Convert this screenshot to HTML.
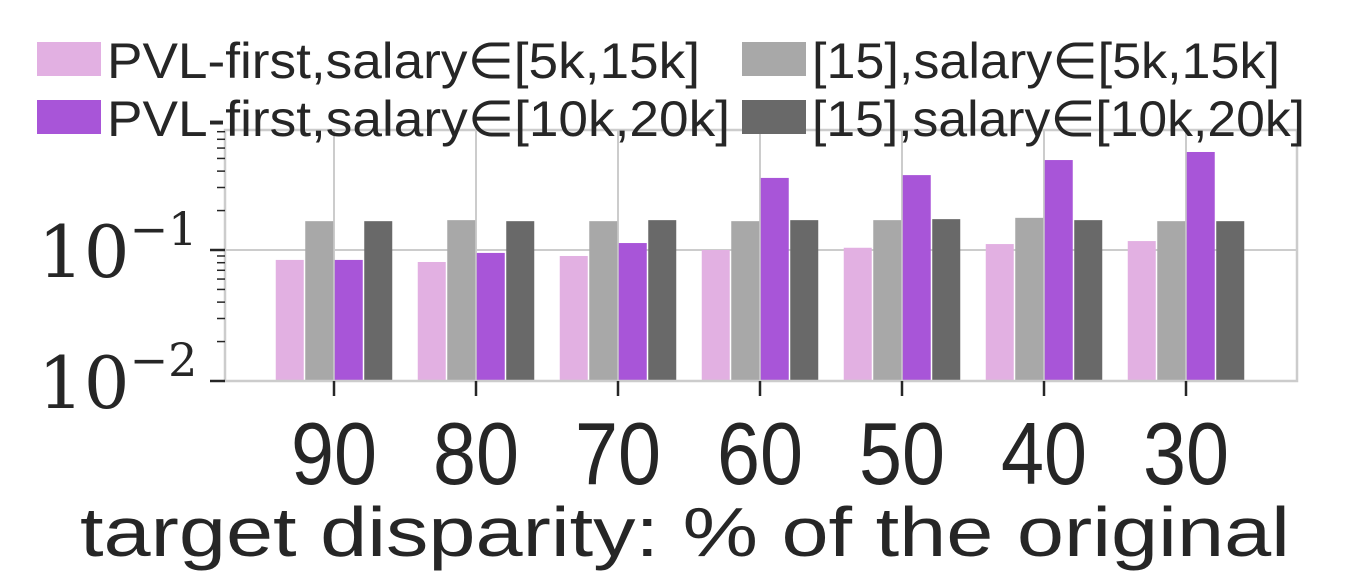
<!DOCTYPE html>
<html><head><meta charset="utf-8"><style>
body{margin:0;background:#fff;}
svg text{fill:#262626;}
</style></head><body>
<svg width="1349" height="581" viewBox="0 0 1349 581" xmlns="http://www.w3.org/2000/svg">
<g id="grid"></g>
<g id="bars"></g>
<rect x="225" y="130" width="1072" height="251" fill="none" stroke="#cccccc" stroke-width="2.5"/>
<g id="axes"></g>
<g id="legend"></g>
<text x="80" y="556" font-family="Liberation Sans, DejaVu Sans, sans-serif" font-size="70" textLength="1210" lengthAdjust="spacingAndGlyphs">target disparity: % of the original</text>
<script>
const categories=["90","80","70","60","50","40","30"];
const seriesNames=["PVL-first,salary∈[5k,15k]","[15],salary∈[5k,15k]","PVL-first,salary∈[10k,20k]","[15],salary∈[10k,20k]"];
const pvl515=[0.084,0.081,0.090,0.100,0.104,0.111,0.117];
const ref515=[0.166,0.169,0.166,0.166,0.169,0.176,0.166];
const pvl1020=[0.084,0.095,0.113,0.355,0.373,0.486,0.56];
const ref1020=[0.166,0.166,0.169,0.169,0.172,0.169,0.166];
const yTicks=[-1,-2];
const series=[pvl515,ref515,pvl1020,ref1020];
const colors=["#e2b0e2","#a8a8a8","#a855d8","#696969"];
const NS="http://www.w3.org/2000/svg";
function y(v){return 381-(Math.log10(v)+2)*131;}
function xc(i){return 334+i*142;}
function mk(tag,attrs,parent){const e=document.createElementNS(NS,tag);for(const k in attrs)e.setAttribute(k,attrs[k]);document.getElementById(parent).appendChild(e);return e;}
categories.forEach((c,i)=>{const l=mk('line',{x1:xc(i),x2:xc(i),y1:130,y2:381,stroke:'#cccccc','stroke-width':2},'grid');

});
yTicks.forEach(t=>{const l=mk('line',{x1:225,x2:1297,y1:y(Math.pow(10,t)),y2:y(Math.pow(10,t)),stroke:'#cccccc','stroke-width':2},'grid');

});
const bw=28,gap=1.5;
series.forEach((s,si)=>{s.forEach((v,i)=>{const x0=xc(i)-2*bw-1.5*gap+si*(bw+gap);
const r=mk('rect',{x:x0,y:y(v),width:bw,height:381-y(v),fill:colors[si]},'bars');

});});
categories.forEach((c,i)=>{const l=mk('line',{x1:xc(i),x2:xc(i),y1:381,y2:396,stroke:'#262626','stroke-width':2.5},'axes');


const t=mk('text',{x:xc(i),y:484,'font-size':88,'text-anchor':'middle','font-family':'Liberation Sans, DejaVu Sans, sans-serif',textLength:86,lengthAdjust:'spacingAndGlyphs'},'axes');
t.textContent=c;

});
yTicks.forEach(p=>{const yy=y(Math.pow(10,p));
const l=mk('line',{x1:210,x2:225,y1:yy,y2:yy,stroke:'#262626','stroke-width':2.5},'axes');


const t=mk('text',{x:38,y:yy+27,'font-size':72,'font-family':'DejaVu Serif, Liberation Serif, serif'},'axes');
t.textContent='10';


const e=mk('tspan',{dy:-32,'font-size':46},'axes');
t.appendChild(e);e.textContent='−'+(-p);});
for(let d=-2;d<0;d++){for(let k=2;k<10;k++){const v=k*Math.pow(10,d);const yy=y(v);if(yy<130)continue;
const l=mk('line',{x1:217,x2:225,y1:yy,y2:yy,stroke:'#262626','stroke-width':1.5},'axes');

}}
const lp=[[37,42],[742,42],[37,100],[742,100]];
const lw=[593,468,623,493];
seriesNames.forEach((n,i)=>{const r=mk('rect',{x:lp[i][0],y:lp[i][1],width:64,height:34,fill:colors[i]},'legend');


const t=mk('text',{x:lp[i][0]+70,y:lp[i][1]+36,'font-size':50,'font-family':'Liberation Sans, DejaVu Sans, sans-serif',textLength:lw[i],lengthAdjust:'spacingAndGlyphs'},'legend');
t.textContent=n;

});
</script>
</svg>
</body></html>
